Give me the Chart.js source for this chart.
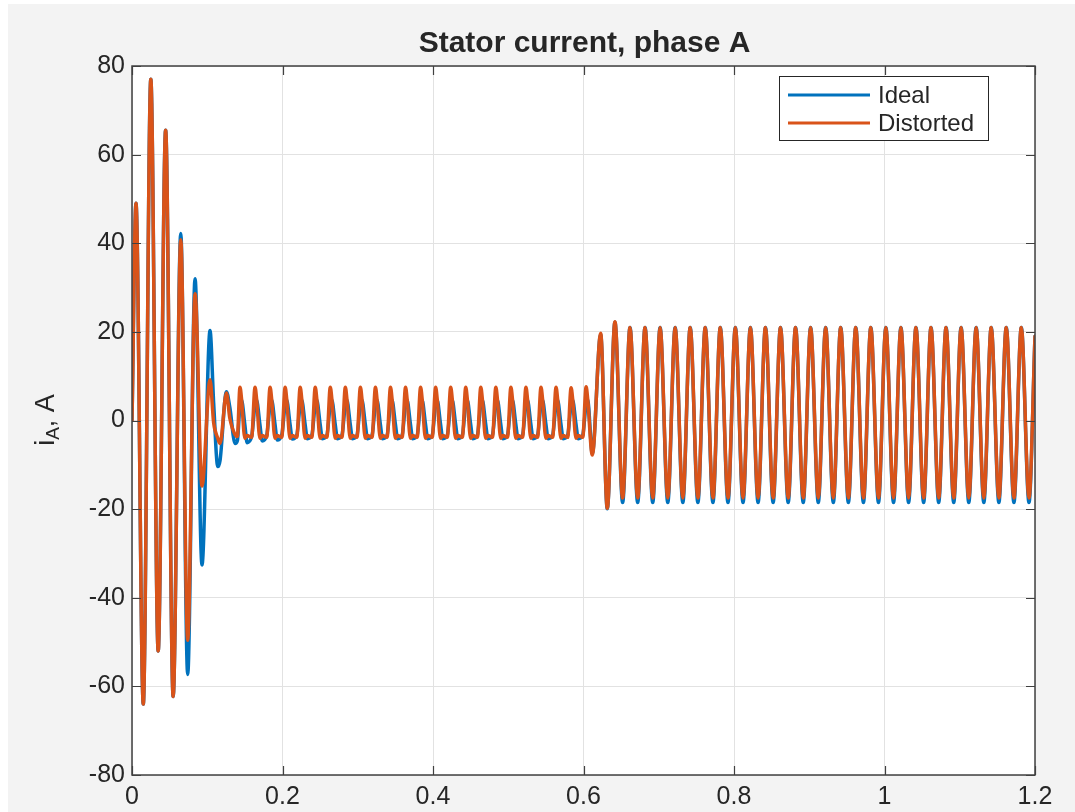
<!DOCTYPE html>
<html>
<head>
<meta charset="utf-8">
<script src="https://cdn.jsdelivr.net/npm/chart.js@4/dist/chart.umd.min.js"></script>
<style>
  html, body { margin: 0; padding: 0; background: #ffffff; }
  canvas { display: block; }
</style>
</head>
<body>
<canvas id="c" width="1075" height="812"></canvas>
<script>
// ---------------- data ----------------
const chartTitle = "Stator current, phase A";
const seriesNames = ["Ideal", "Distorted"];
const xTickValues = [0, 0.2, 0.4, 0.6, 0.8, 1, 1.2];
const yTickValues = [-80, -60, -40, -20, 0, 20, 40, 60, 80];

// time, s
const timeS = [
  0, 0.0053, 0.0150, 0.0250, 0.0348, 0.0447, 0.0547, 0.0648, 0.0740, 0.0838,
  0.0930, 0.1037, 0.1085, 0.1140, 0.1170, 0.1255, 0.1300, 0.1370, 0.1400,
  0.1435, 0.1455, 0.1500, 0.1530, 0.1590,
  0.1635, 0.1655, 0.1700, 0.1730, 0.1790,
  0.1835, 0.1855, 0.1900, 0.1930, 0.1990,
  0.2035, 0.2055, 0.2100, 0.2130, 0.2190,
  0.2235, 0.2255, 0.2300, 0.2330, 0.2390,
  0.2435, 0.2455, 0.2500, 0.2530, 0.2590,
  0.2635, 0.2655, 0.2700, 0.2730, 0.2790,
  0.2835, 0.2855, 0.2900, 0.2930, 0.2990,
  0.3035, 0.3055, 0.3100, 0.3130, 0.3190,
  0.3235, 0.3255, 0.3300, 0.3330, 0.3390,
  0.3435, 0.3455, 0.3500, 0.3530, 0.3590,
  0.3635, 0.3655, 0.3700, 0.3730, 0.3790,
  0.3835, 0.3855, 0.3900, 0.3930, 0.3990,
  0.4035, 0.4055, 0.4100, 0.4130, 0.4190,
  0.4235, 0.4255, 0.4300, 0.4330, 0.4390,
  0.4435, 0.4455, 0.4500, 0.4530, 0.4590,
  0.4635, 0.4655, 0.4700, 0.4730, 0.4790,
  0.4835, 0.4855, 0.4900, 0.4930, 0.4990,
  0.5035, 0.5055, 0.5100, 0.5130, 0.5190,
  0.5235, 0.5255, 0.5300, 0.5330, 0.5390,
  0.5435, 0.5455, 0.5500, 0.5530, 0.5590,
  0.5635, 0.5655, 0.5700, 0.5730, 0.5790,
  0.5835, 0.5855, 0.5900, 0.5930, 0.5990,
  0.6035, 0.6055, 0.6117, 0.6228, 0.6316, 0.6418, 0.6520,
  0.6618, 0.6720, 0.6818, 0.6920, 0.7018, 0.7120, 0.7218, 0.7320,
  0.7418, 0.7520, 0.7618, 0.7720, 0.7818, 0.7920, 0.8018, 0.8120,
  0.8218, 0.8320, 0.8418, 0.8520, 0.8618, 0.8720, 0.8818, 0.8920,
  0.9018, 0.9120, 0.9218, 0.9320, 0.9418, 0.9520, 0.9618, 0.9720,
  0.9818, 0.9920, 1.0018, 1.0120, 1.0218, 1.0320, 1.0418, 1.0520,
  1.0618, 1.0720, 1.0818, 1.0920, 1.1018, 1.1120, 1.1218, 1.1320,
  1.1418, 1.1520, 1.1618, 1.1720, 1.1818, 1.1920, 1.2000
];

// phase A current, A — ideal supply
const idealA = [
  0, 49, -64, 77, -52, 65.5, -62.3, 42.2, -57.3, 32.0,
  -32.6, 20.3, 4.0, -10.4, -9.0, 6.5, 3.0, -5.2, -4.6,
  3.6, 4.6, -1.0, -5.0, -3.6,
  3.6, 4.6, -0.9, -4.6, -3.4,
  3.6, 4.6, -0.8, -4.4, -3.3,
  3.6, 4.6, -0.8, -4.2, -3.3,
  3.6, 4.6, -0.8, -4.1, -3.3,
  3.6, 4.6, -0.8, -4.1, -3.3,
  3.6, 4.6, -0.8, -4.1, -3.3,
  3.6, 4.6, -0.8, -4.1, -3.3,
  3.6, 4.6, -0.8, -4.1, -3.3,
  3.6, 4.6, -0.8, -4.1, -3.3,
  3.6, 4.6, -0.8, -4.1, -3.3,
  3.6, 4.6, -0.8, -4.1, -3.3,
  3.6, 4.6, -0.8, -4.1, -3.3,
  3.6, 4.6, -0.8, -4.1, -3.3,
  3.6, 4.6, -0.8, -4.1, -3.3,
  3.6, 4.6, -0.8, -4.1, -3.3,
  3.6, 4.6, -0.8, -4.1, -3.3,
  3.6, 4.6, -0.8, -4.1, -3.3,
  3.6, 4.6, -0.8, -4.1, -3.3,
  3.6, 4.6, -0.8, -4.1, -3.3,
  3.6, 4.6, -0.8, -4.1, -3.3,
  3.6, 4.6, -0.8, -4.1, -3.3,
  3.6, 4.6, -0.8, -4.1, -3.3,
  3.8, 4.6, -7.5, 19.4, -19.9, 22.2, -18.5,
  21.0, -18.5, 21.0, -18.5, 21.0, -18.5, 21.0, -18.5,
  21.0, -18.5, 21.0, -18.5, 21.0, -18.5, 21.0, -18.5,
  21.0, -18.5, 21.0, -18.5, 21.0, -18.5, 21.0, -18.5,
  21.0, -18.5, 21.0, -18.5, 21.0, -18.5, 21.0, -18.5,
  21.0, -18.5, 21.0, -18.5, 21.0, -18.5, 21.0, -18.5,
  21.0, -18.5, 21.0, -18.5, 21.0, -18.5, 21.0, -18.5,
  21.0, -18.5, 21.0, -18.5, 21.0, -18.5, 19.0
];

// phase A current, A — distorted supply
const distortedA = [
  0, 49, -64, 77, -52, 65.5, -62.3, 40.8, -49.6, 28.6,
  -14.8, 9.2, -0.5, -4.0, -5.2, 6.2, 0.5, -3.2, -3.6,
  7.5, 5.0, -4.0, -3.4, -3.8,
  7.5, 5.0, -4.0, -3.4, -3.8,
  7.5, 5.0, -4.0, -3.4, -3.8,
  7.5, 5.0, -4.0, -3.4, -3.8,
  7.5, 5.0, -4.0, -3.4, -3.8,
  7.5, 5.0, -4.0, -3.4, -3.8,
  7.5, 5.0, -4.0, -3.4, -3.8,
  7.5, 5.0, -4.0, -3.4, -3.8,
  7.5, 5.0, -4.0, -3.4, -3.8,
  7.5, 5.0, -4.0, -3.4, -3.8,
  7.5, 5.0, -4.0, -3.4, -3.8,
  7.5, 5.0, -4.0, -3.4, -3.8,
  7.5, 5.0, -4.0, -3.4, -3.8,
  7.5, 5.0, -4.0, -3.4, -3.8,
  7.5, 5.0, -4.0, -3.4, -3.8,
  7.5, 5.0, -4.0, -3.4, -3.8,
  7.5, 5.0, -4.0, -3.4, -3.8,
  7.5, 5.0, -4.0, -3.4, -3.8,
  7.5, 5.0, -4.0, -3.4, -3.8,
  7.5, 5.0, -4.0, -3.4, -3.8,
  7.5, 5.0, -4.0, -3.4, -3.8,
  7.5, 5.0, -4.0, -3.4, -3.8,
  7.4, 5.0, -4.0, -3.4, -3.8,
  7.6, 5.0, -7.8, 19.7, -19.8, 22.3, -17.5,
  21.0, -17.5, 21.0, -17.5, 21.0, -17.5, 21.0, -17.5,
  21.0, -17.5, 21.0, -17.5, 21.0, -17.5, 21.0, -17.5,
  21.0, -17.5, 21.0, -17.5, 21.0, -17.5, 21.0, -17.5,
  21.0, -17.5, 21.0, -17.5, 21.0, -17.5, 21.0, -17.5,
  21.0, -17.5, 21.0, -17.5, 21.0, -17.5, 21.0, -17.5,
  21.0, -17.5, 21.0, -17.5, 21.0, -17.5, 21.0, -17.5,
  21.0, -17.5, 21.0, -17.5, 21.0, -17.5, 19.0
];

// ---------------- styling ----------------
const W = 1075, H = 812;
const FONT = '"Liberation Sans", Arial, Helvetica, sans-serif';
const TXT = '#262626';
const colors = ['#0072BD', '#D95319'];

function pts(vals) { return timeS.map((t, i) => ({ x: t, y: vals[i] })); }
function fmtTick(v) { return String(Math.round(v * 10) / 10); }

const decor = {
  id: 'decor',
  beforeDraw(chart) {
    const c = chart.ctx, a = chart.chartArea;
    c.save();
    c.fillStyle = '#ffffff';
    c.fillRect(0, 0, W, H);
    c.fillStyle = '#f3f3f3';
    c.fillRect(8, 4, W - 8, H - 4);
    c.fillStyle = '#ffffff';
    c.fillRect(a.left, a.top, a.right - a.left, a.bottom - a.top);
    c.restore();
  },
  afterDraw(chart) {
    const c = chart.ctx, a = chart.chartArea;
    const xs = chart.scales.x, ys = chart.scales.y;
    c.save();
    // box
    c.strokeStyle = '#404040';
    c.lineWidth = 1.5;
    c.strokeRect(a.left, a.top, a.right - a.left, a.bottom - a.top);
    // inward ticks on all four sides
    c.lineWidth = 1.2;
    const tl = 9;
    c.beginPath();
    xTickValues.forEach(v => {
      const px = Math.round(xs.getPixelForValue(v)) + 0.5;
      c.moveTo(px, a.bottom); c.lineTo(px, a.bottom - tl);
      c.moveTo(px, a.top); c.lineTo(px, a.top + tl);
    });
    yTickValues.forEach(v => {
      const py = Math.round(ys.getPixelForValue(v)) + 0.5;
      c.moveTo(a.left, py); c.lineTo(a.left + tl, py);
      c.moveTo(a.right, py); c.lineTo(a.right - tl, py);
    });
    c.stroke();

    // title
    c.fillStyle = TXT;
    c.font = 'bold 30px ' + FONT;
    c.textAlign = 'center';
    c.textBaseline = 'alphabetic';
    c.fillText(chartTitle, (a.left + a.right) / 2 + 1, 52);

    // y label: i_A, A
    c.save();
    c.translate(0, 420);
    c.rotate(-Math.PI / 2);
    c.textAlign = 'left';
    const big = '27px ' + FONT, small = '19px ' + FONT;
    c.font = big; const w1 = c.measureText('i').width;
    c.font = small; const w2 = c.measureText('A').width;
    c.font = big; const w3 = c.measureText(', A').width;
    let u = -(w1 + w2 + w3) / 2;
    c.font = big; c.fillText('i', u, 54); u += w1;
    c.font = small; c.fillText('A', u, 59); u += w2;
    c.font = big; c.fillText(', A', u, 54);
    c.restore();

    // legend
    const lx = 779.5, ly = 76.5, lw = 209, lh = 64;
    c.fillStyle = '#ffffff';
    c.fillRect(lx, ly, lw, lh);
    c.strokeStyle = '#262626';
    c.lineWidth = 1;
    c.strokeRect(lx, ly, lw, lh);
    const rows = [95, 123];
    chart.data.datasets.forEach((ds, i) => {
      c.strokeStyle = ds.borderColor;
      c.lineWidth = 3;
      c.beginPath();
      c.moveTo(788, rows[i]); c.lineTo(870, rows[i]);
      c.stroke();
      c.fillStyle = TXT;
      c.font = '24px ' + FONT;
      c.textAlign = 'left';
      c.textBaseline = 'middle';
      c.fillText(ds.label, 878, rows[i] + 1);
    });
    c.restore();
  }
};

new Chart(document.getElementById('c'), {
  type: 'line',
  data: {
    datasets: [
      { label: seriesNames[0], data: pts(idealA), borderColor: colors[0], order: 2 },
      { label: seriesNames[1], data: pts(distortedA), borderColor: colors[1], order: 1 }
    ]
  },
  options: {
    responsive: false,
    animation: false,
    devicePixelRatio: 1,
    layout: { padding: { left: 0, right: 40, top: 66, bottom: 0 } },
    elements: {
      point: { radius: 0, hoverRadius: 0 },
      line: { borderWidth: 3.5, cubicInterpolationMode: 'monotone', fill: false, borderCapStyle: 'round', borderJoinStyle: 'round' }
    },
    plugins: { legend: { display: false }, title: { display: false }, tooltip: { enabled: false } },
    events: [],
    scales: {
      x: {
        type: 'linear', min: 0, max: 1.2,
        afterFit(s) { s.height = 37; },
        afterBuildTicks(s) { s.ticks = xTickValues.map(v => ({ value: v })); },
        ticks: { callback: fmtTick, color: TXT, font: { family: FONT, size: 25 }, padding: 7, maxRotation: 0, autoSkip: false },
        grid: { color: '#e2e2e2', lineWidth: 1, drawTicks: false },
        border: { display: false }
      },
      y: {
        type: 'linear', min: -80, max: 80,
        afterFit(s) { s.width = 132; },
        afterBuildTicks(s) { s.ticks = yTickValues.map(v => ({ value: v })); },
        ticks: { callback: fmtTick, color: TXT, font: { family: FONT, size: 25 }, padding: 7, autoSkip: false },
        grid: { color: '#e2e2e2', lineWidth: 1, drawTicks: false },
        border: { display: false }
      }
    }
  },
  plugins: [decor]
});
</script>
</body>
</html>
